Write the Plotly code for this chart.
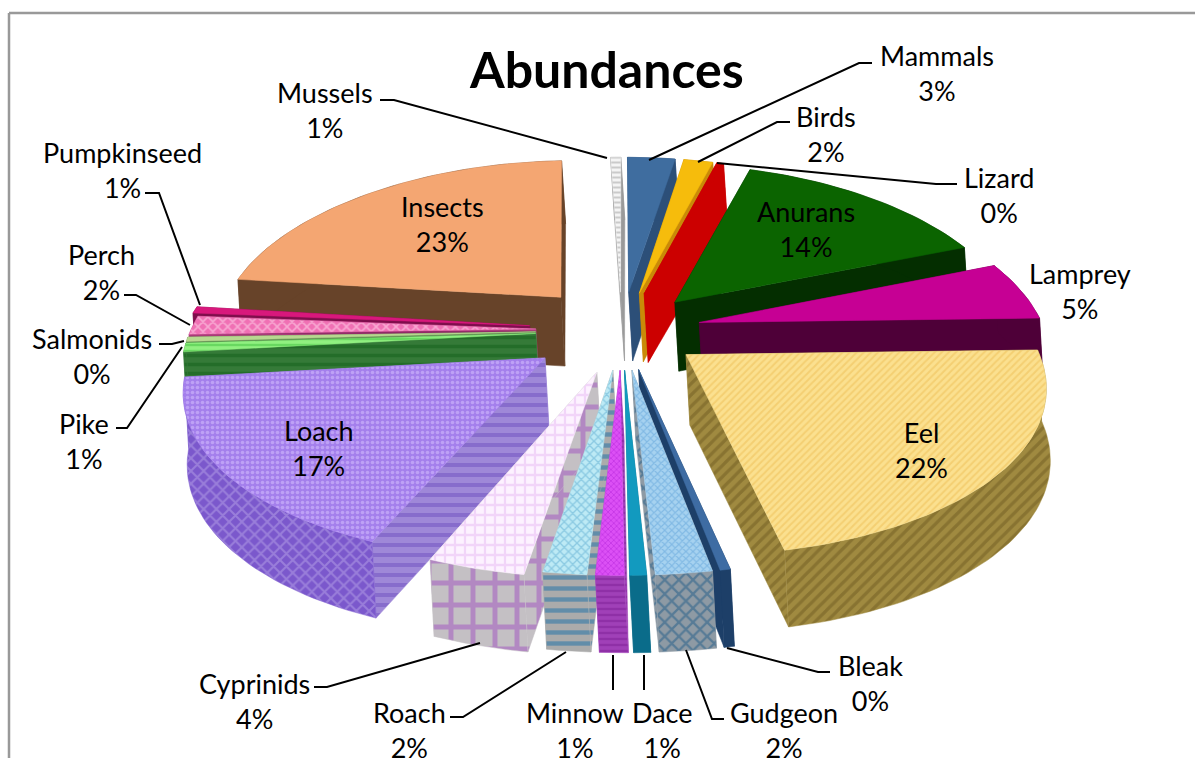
import math
import plotly.graph_objects as go

# ---- data -------------------------------------------------------------
categories = ["Mammals", "Birds", "Lizard", "Anurans", "Lamprey", "Eel", "Bleak", "Gudgeon", "Dace",
              "Minnow", "Roach", "Cyprinids", "Loach", "Pike", "Salmonids", "Perch", "Pumpkinseed",
              "Insects", "Mussels"]
values = [2.8, 1.7, 0.4, 14.3, 5.4, 22.0, 0.4, 2.2, 0.65, 1.1, 1.7, 3.8, 16.9, 0.8, 0.4, 1.7, 0.6, 22.6, 0.6]
title_text = "Abundances"

# ---- explosion of each slice ---------------------------------------------
pulls = {"Cyprinids": 0.25, "Loach": 0.27, "Pike": 0.25, "Salmonids": 0.25, "Perch": 0.25,
         "Pumpkinseed": 0.27, "Insects": 0.27}
DEFAULT_PULL = 0.23

# ---- styles: (top fg, top bg, top shape, top size, wall fg, wall bg, wall shape, wall size) -----
styles = {
    "Mammals":     ("#3F6D9F", "#3F6D9F", "", 8, "#2C4F78", "#2C4F78", "", 8),
    "Birds":       ("#F6BC0C", "#F6BC0C", "", 8, "#C98A08", "#C98A08", "", 8),
    "Lizard":      ("#CC0000", "#CC0000", "", 8, "#CC0000", "#CC0000", "", 8),
    "Anurans":     ("#0B6400", "#0B6400", "", 8, "#042E00", "#042E00", "", 8),
    "Lamprey":     ("#C60094", "#C60094", "", 8, "#4E0038", "#4E0038", "", 8),
    "Eel":         ("#EDBE55", "#FBE08F", "/", 5, "#6F5B22", "#A08A40", "/", 8),
    "Bleak":       ("#3E6CA3", "#3E6CA3", "", 8, "#1D3F68", "#1D3F68", "", 8),
    "Gudgeon":     ("#5C9FD8", "#A6D2F0", "x", 5, "#1F5B88", "#8E9AA4", "x", 10),
    "Dace":        ("#129ABF", "#129ABF", "", 8, "#0A6C8A", "#0A6C8A", "", 8),
    "Minnow":      ("#B020D8", "#DC50F5", "x", 4, "#7E1F96", "#A040B8", "-", 6),
    "Roach":       ("#5AAAD0", "#BDEAF5", "x", 6, "#1A70A8", "#ABABAB", "-", 11),
    "Cyprinids":   ("#E8B8F4", "#FDF2FF", "+", 10, "#A050C0", "#C4C0C4", "+", 22),
    "Loach":       ("#D8C4FF", "#A47FEC", ".", 5, "#6F4FC0", "#9F88D8", "-", 10),
    "Pike":        ("#3FC040", "#90F080", "-", 6, "#14601A", "#357A38", "-", 9),
    "Salmonids":   ("#B8D890", "#B8D890", "", 8, "#5F8A50", "#5F8A50", "", 8),
    "Perch":       ("#FFE0F0", "#F070B4", "x", 7, "#7A1A55", "#A83A78", "-", 7),
    "Pumpkinseed": ("#D8187C", "#D8187C", "", 8, "#7F0E4C", "#7F0E4C", "", 8),
    "Insects":     ("#F4A672", "#F4A672", "", 8, "#674329", "#674329", "", 8),
    "Mussels":     ("#A0A0A0", "#F4F4F4", "-", 5, "#6E6E6E", "#9A9A9A", "", 8),
}
outer_wall_overrides = {"Loach": ("#B8A4E8", "#7B58CC", "x", 9)}

# ---- label layout (canvas coordinates) ---------------------------------
label_centres = {
    "Mammals": (937, 73), "Birds": (826, 134), "Lizard": (999, 195), "Anurans": (806, 229),
    "Lamprey": (1080, 291), "Eel": (921, 450), "Bleak": (870, 683), "Gudgeon": (784, 730),
    "Dace": (662, 730), "Minnow": (575, 730), "Roach": (409, 730), "Cyprinids": (254, 701),
    "Loach": (319, 448), "Pike": (84, 441), "Salmonids": (92, 356), "Perch": (101, 272),
    "Pumpkinseed": (122, 170), "Insects": (442, 224), "Mussels": (325, 110),
}
leaders = [
    [(872, 63), (859, 63), (649, 160)],
    [(790, 122), (777, 122), (698, 162)],
    [(957, 184), (936, 184), (717, 163)],
    [(830, 672), (818, 672), (727, 648)],
    [(724, 719), (712, 719), (686, 650)],
    [(644, 690), (644, 655)],
    [(613, 690), (613, 655)],
    [(450, 717), (463, 717), (566, 652)],
    [(314, 687), (327, 687), (480, 643)],
    [(116, 428), (127, 428), (182, 347)],
    [(159, 344), (172, 344), (184, 341)],
    [(124, 295), (136, 295), (190, 325)],
    [(145, 193), (159, 193), (200, 305)],
    [(380, 100), (394, 100), (607, 158)],
]

# ---- projection of the exploded pie -------------------------------------
CX, CY = 622, 330
XS, PERSP = 345, 0.174


def project(X, Z):
    return CX + X * XS * (1 - PERSP * Z), CY - 170 * Z + 24 * Z * Z


def lower(X, Z):
    x, y = project(X, Z)
    return x + 4, y + 70 - 6 * Z


def polygon(points, fg, bg, shape, size):
    xs = [p[0] for p in points] + [points[0][0]]
    ys = [p[1] for p in points] + [points[0][1]]
    kw = dict(x=xs, y=ys, mode="lines", fill="toself", hoverinfo="skip", showlegend=False,
              line=dict(width=0.5, color=bg))
    if shape:
        return go.Scatter(fillcolor=bg, fillpattern=dict(shape=shape, fgcolor=fg, bgcolor=bg,
                                                         size=size, solidity=0.4), **kw)
    return go.Scatter(fillcolor=bg, **kw)


total = sum(values)
slices = []
cum = 0.0
for name, v in zip(categories, values):
    t1 = cum / total * 2 * math.pi
    cum += v
    t2 = cum / total * 2 * math.pi
    mid = (t1 + t2) / 2
    slices.append((math.cos(mid), name, v, t1, t2, mid))

fig = go.Figure()
for _, name, v, t1, t2, mid in sorted(slices, key=lambda s: -s[0]):
    pull = pulls.get(name, DEFAULT_PULL)
    ax, az = pull * math.sin(mid), pull * math.cos(mid)
    n = max(3, int((t2 - t1) / math.radians(1.5)))
    arc = [(ax + math.sin(t1 + (t2 - t1) * i / n), az + math.cos(t1 + (t2 - t1) * i / n)) for i in range(n + 1)]
    tf, tb, ts, tz, wf, wb, ws, wz = styles[name]
    # cut faces
    for end in (arc[0], arc[-1]):
        fig.add_trace(polygon([project(ax, az), project(*end), lower(*end), lower(ax, az)], wf, wb, ws, wz))
    # outer wall
    of, ob, os_, oz = outer_wall_overrides.get(name, (wf, wb, ws, wz))
    fig.add_trace(polygon([project(*p) for p in arc] + [lower(*p) for p in reversed(arc)], of, ob, os_, oz))
    # top face
    fig.add_trace(polygon([project(ax, az)] + [project(*p) for p in arc], tf, tb, ts, tz))

for pts in leaders:
    fig.add_trace(go.Scatter(x=[p[0] for p in pts], y=[p[1] for p in pts], mode="lines", hoverinfo="skip",
                             showlegend=False, line=dict(color="#000000", width=2)))

FONT = "Lato"
annotations = [
    dict(x=label_centres[c][0], y=label_centres[c][1], xref="x", yref="y", showarrow=False,
         text=f"{c}<br>{round(v)}%", align="center", font=dict(family=FONT, size=27, color="#000000"))
    for c, v in zip(categories, values)
]
annotations.append(dict(x=606, y=69, xref="x", yref="y", showarrow=False, text=f"<b>{title_text}</b>",
                        font=dict(family=FONT, size=50, color="#000000")))

fig.update_layout(
    width=1195, height=758, margin=dict(l=0, r=0, t=0, b=0), paper_bgcolor="white", plot_bgcolor="white",
    xaxis=dict(range=[0, 1195], visible=False, fixedrange=True),
    yaxis=dict(range=[758, 0], visible=False, fixedrange=True),
    showlegend=False, annotations=annotations,
    shapes=[
        dict(type="line", xref="x", yref="y", x0=9, x1=9, y0=13, y1=758, line=dict(color="#999999", width=2.5)),
        dict(type="line", xref="x", yref="y", x0=9, x1=1195, y0=13, y1=13, line=dict(color="#999999", width=2.5)),
    ],
)
fig.write_html("out.html", config=dict(displayModeBar=False),
               post_script="document.body.style.margin='0';document.body.style.overflow='hidden';")
